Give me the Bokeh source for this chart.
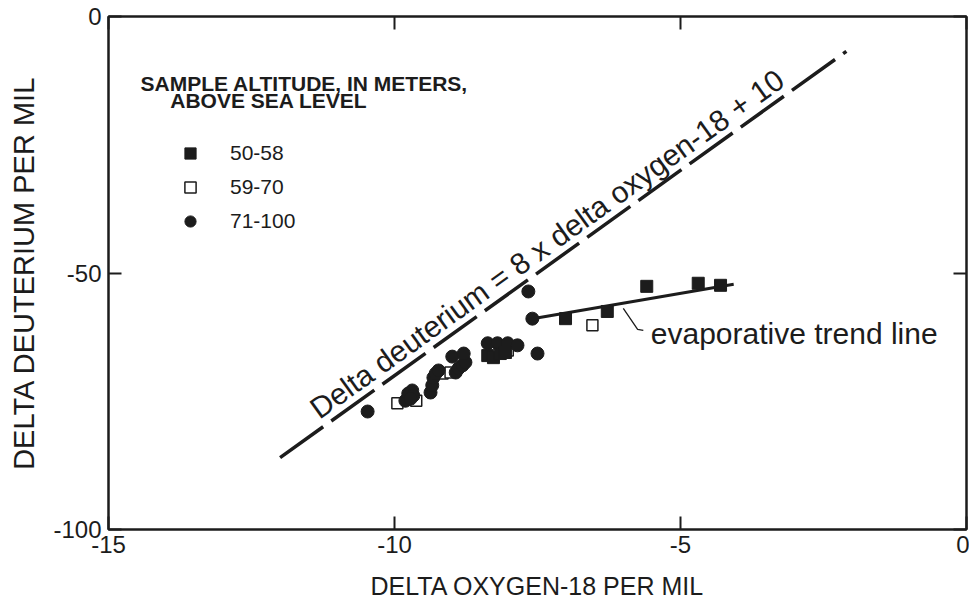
import math
from bokeh.plotting import figure
from bokeh.models import (ColumnDataSource, Range1d, LinearAxis, FixedTicker,
                          Legend, LegendItem, Label)
from bokeh.embed import file_html
from bokeh.resources import INLINE

# ---------------- data ----------------
# Sample altitude 50-58 m (filled squares)
alt_50_58_o18 = [-5.59, -4.69, -4.30, -6.28, -7.01, -8.37, -8.27, -8.15, -8.06]
alt_50_58_d = [-52.6, -52.0, -52.4, -57.5, -58.9, -66.1, -66.5, -65.7, -65.5]

# Sample altitude 59-70 m (open squares)
alt_59_70_o18 = [-6.54, -9.95, -9.62, -9.16, -9.02, -8.02]
alt_59_70_d = [-60.2, -75.4, -74.9, -69.6, -69.4, -65.1]

# Sample altitude 71-100 m (filled circles)
alt_71_100_o18 = [-10.47, -9.81, -9.76, -9.69, -9.67, -9.72, -9.37, -9.34, -9.32,
                  -9.28, -9.23, -8.93, -8.88, -8.81, -8.76, -8.99, -8.79, -8.37,
                  -8.20, -8.02, -7.85, -7.50, -7.66, -7.59]
alt_71_100_d = [-77.0, -74.9, -73.5, -72.9, -73.9, -74.5, -73.3, -71.9, -70.4,
                -69.6, -69.0, -69.4, -68.6, -68.0, -67.4, -66.3, -65.7, -63.7,
                -63.7, -63.7, -64.1, -65.7, -53.6, -58.9]

# Meteoric water line: delta D = 8 x delta O18 + 10
gmwl_o18 = [-12.0, -2.1]
gmwl_d = [-86.0, -6.8]

# Evaporative trend line
trend_o18 = [-7.59, -4.07]
trend_d = [-58.9, -52.2]

# Leader from trend line to its label
leader_o18 = [-6.00, -5.75, -5.65]
leader_d = [-56.9, -61.0, -61.2]

x_ticks = [-15, -10, -5, 0]
y_ticks = [-100, -50, 0]
x_tick_labels = ["-15", "-10", "-5", "0"]
y_tick_labels = ["-100", "-50", "0"]

legend_title_1 = "SAMPLE ALTITUDE, IN METERS,"
legend_title_2 = "ABOVE SEA LEVEL"
legend_labels = ["50-58", "59-70", "71-100"]

# ---------------- figure ----------------
INK = "#1c1c1c"
FONT = "Liberation Sans"
FW, FH = 858, 513

p = figure(frame_width=FW, frame_height=FH,
           x_range=Range1d(-15, 0), y_range=Range1d(-100, 0),
           output_backend="svg", toolbar_location=None,
           min_border_left=108, min_border_top=16,
           min_border_right=3, min_border_bottom=70,
           x_axis_location=None, y_axis_location=None)
p.background_fill_color = "white"
p.border_fill_color = "white"
p.outline_line_color = INK
p.outline_line_width = 2
p.xgrid.visible = False
p.ygrid.visible = False


def style_axis(ax, ticks, labels, show_labels):
    ax.ticker = FixedTicker(ticks=ticks)
    ax.minor_tick_line_color = None
    ax.major_tick_in = 13
    ax.major_tick_out = 0
    ax.major_tick_line_color = INK
    ax.major_tick_line_width = 2
    ax.axis_line_color = INK
    ax.axis_line_width = 2
    ax.major_label_text_font = FONT
    ax.major_label_text_color = INK
    if show_labels:
        ax.major_label_overrides = {t: l for t, l in zip(ticks, labels)}
        ax.major_label_text_font_size = "24px"
    else:
        ax.major_label_overrides = {t: "" for t in ticks}
        ax.major_label_text_font_size = "1px"
        ax.major_label_standoff = 0


xb = LinearAxis(axis_label="DELTA OXYGEN-18 PER MIL")
style_axis(xb, x_ticks, x_tick_labels, True)
xb.major_label_standoff = 6
xb.axis_label_text_font = FONT
xb.axis_label_text_font_size = "25px"
xb.axis_label_text_font_style = "normal"
xb.axis_label_text_color = INK
xb.axis_label_standoff = 16
p.add_layout(xb, "below")

yl = LinearAxis(axis_label="DELTA DEUTERIUM PER MIL")
style_axis(yl, y_ticks, y_tick_labels, True)
yl.major_label_standoff = 7
yl.axis_label_text_font = FONT
yl.axis_label_text_font_size = "29px"
yl.axis_label_text_font_style = "normal"
yl.axis_label_text_color = INK
yl.axis_label_standoff = 10
p.add_layout(yl, "left")

xt = LinearAxis()
style_axis(xt, x_ticks, x_tick_labels, False)
p.add_layout(xt, "above")

yr = LinearAxis()
style_axis(yr, y_ticks, y_tick_labels, False)
p.add_layout(yr, "right")

# ---------------- lines ----------------
p.line(gmwl_o18, gmwl_d, line_color=INK, line_width=3.5, line_dash="53 10")
p.line(trend_o18, trend_d, line_color=INK, line_width=3)
p.line(leader_o18, leader_d, line_color=INK, line_width=1.3)

# ---------------- points ----------------
src_sq = ColumnDataSource(dict(x=alt_50_58_o18, y=alt_50_58_d))
src_open = ColumnDataSource(dict(x=alt_59_70_o18, y=alt_59_70_d))
src_circ = ColumnDataSource(dict(x=alt_71_100_o18, y=alt_71_100_d))

r_open = p.scatter("x", "y", source=src_open, marker="square", size=11,
                   fill_color="white", line_color=INK, line_width=1.5)
r_circ = p.scatter("x", "y", source=src_circ, marker="circle", size=13,
                   fill_color=INK, line_color=INK)
r_sq = p.scatter("x", "y", source=src_sq, marker="square", size=12,
                 fill_color=INK, line_color=INK)

# ---------------- texts ----------------
# angle of the 8:1 line on screen
ang = math.atan(8 * (FH / 100.0) / (FW / 15.0))
p.add_layout(Label(x=-11.42, y=-77.0, text="Delta deuterium = 8 x delta oxygen-18 + 10",
                   angle=ang, angle_units="rad", text_font=FONT, text_font_size="30px",
                   text_color=INK, text_align="left", text_baseline="alphabetic"))
p.add_layout(Label(x=-5.52, y=-61.7, text="evaporative trend line",
                   text_font=FONT, text_font_size="30px", text_color=INK,
                   text_align="left", text_baseline="alphabetic"))

p.add_layout(Label(x=-14.44, y=-13.0, text=legend_title_1, text_font=FONT,
                   text_font_size="21px", text_font_style="bold", text_color=INK,
                   text_baseline="alphabetic"))
p.add_layout(Label(x=-13.92, y=-16.3, text=legend_title_2, text_font=FONT,
                   text_font_size="21px", text_font_style="bold", text_color=INK,
                   text_baseline="alphabetic"))

legend = Legend(items=[LegendItem(label=legend_labels[0], renderers=[r_sq]),
                       LegendItem(label=legend_labels[1], renderers=[r_open]),
                       LegendItem(label=legend_labels[2], renderers=[r_circ])],
                location=(68, 294), padding=0, margin=0, spacing=6,
                glyph_width=28, glyph_height=28, label_standoff=26,
                label_text_font=FONT, label_text_font_size="21px",
                label_text_color=INK, border_line_alpha=0,
                background_fill_alpha=0)
p.add_layout(legend)

open("out.html", "w").write(file_html(p, INLINE))
